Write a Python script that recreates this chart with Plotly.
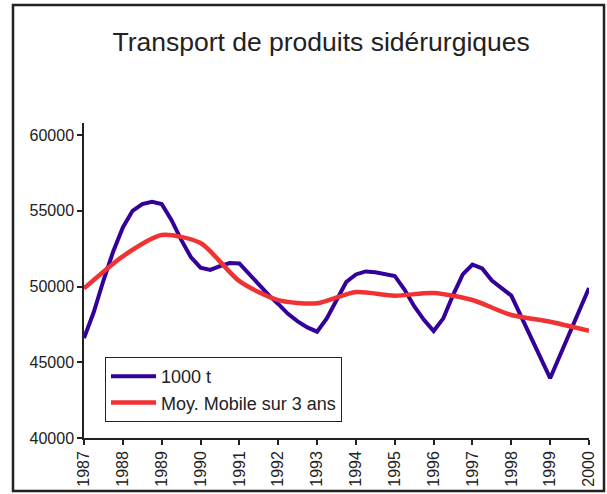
import plotly.graph_objects as go

# Blue series: quarterly values 1987-1998, then annual
x_t = [1987.0, 1987.25, 1987.5, 1987.75,
       1988.0, 1988.25, 1988.5, 1988.75,
       1989.0, 1989.25, 1989.5, 1989.75,
       1990.0, 1990.25, 1990.5, 1990.75,
       1991.0, 1991.25, 1991.5, 1991.75,
       1992.0, 1992.25, 1992.5, 1992.75,
       1993.0, 1993.25, 1993.5, 1993.75,
       1994.0, 1994.25, 1994.5, 1994.75,
       1995.0, 1995.25, 1995.5, 1995.75,
       1996.0, 1996.25, 1996.5, 1996.75,
       1997.0, 1997.25, 1997.5, 1997.75,
       1998.0, 1999.0, 2000.0]
tonnes = [46600, 48300, 50400, 52300,
          53900, 55000, 55450, 55600,
          55450, 54400, 53100, 51950,
          51250, 51100, 51350, 51550,
          51530, 50850, 50100, 49450,
          48850, 48200, 47700, 47300,
          47020, 47900, 49100, 50300,
          50800, 51000, 50950, 50800,
          50700, 49800, 48700, 47800,
          47060, 47900, 49440, 50800,
          51450, 51200, 50400, 49900,
          49400, 43950, 49900]

# Red series: 3-year moving average (annual)
years = [1987, 1988, 1989, 1990, 1991, 1992, 1993, 1994, 1995, 1996, 1997, 1998, 1999, 2000]
moy_mobile = [49880, 52000, 53400, 52870, 50360, 49100, 48900, 49640, 49400, 49570, 49110, 48120, 47680, 47080]

y_ticks = [40000, 45000, 50000, 55000, 60000]
x_ticks = list(range(1987, 2001))

fig = go.Figure()
fig.add_trace(go.Scatter(x=x_t, y=tonnes, mode="lines", name="1000 t",
                         line=dict(color="#330099", width=4)))
fig.add_trace(go.Scatter(x=years, y=moy_mobile, mode="lines", name="Moy. Mobile sur 3 ans",
                         line=dict(color="#f03232", width=4.5, shape="spline", smoothing=0.7)))

font_family = "Liberation Sans, Arial, sans-serif"
xr = [1987, 2000]
yr = [40000, 60800]

fig.update_layout(
    width=607, height=494,
    margin=dict(l=84, r=18, t=123, b=56, autoexpand=False),
    paper_bgcolor="white", plot_bgcolor="white",
    font=dict(family=font_family, color="#222222"),
    title=dict(text="Transport de produits sidérurgiques", font=dict(size=26.5, color="#222222"),
               x=0.529, xref="container", y=1 - 42 / 494, yref="container",
               xanchor="center", yanchor="middle"),
    showlegend=True,
    legend=dict(x=(105 - 84) / 505, y=(438 - 357) / 315, xanchor="left", yanchor="top",
                bordercolor="#222222", borderwidth=1, bgcolor="white", itemwidth=45,
                entrywidth=195, entrywidthmode="pixels",
                font=dict(size=18, color="#222222"), tracegroupgap=0),
    xaxis=dict(range=xr, tickmode="array", tickvals=x_ticks, ticktext=[str(v) for v in x_ticks],
               tickangle=-90, tickfont=dict(size=16), showgrid=False, zeroline=False,
               showline=True, linecolor="#222222", linewidth=1.5, automargin=False,
               ticks="outside", ticklen=5, tickcolor="#222222", tickwidth=1.5),
    yaxis=dict(range=yr, tickmode="array", tickvals=y_ticks, ticktext=[str(v) for v in y_ticks],
               tickfont=dict(size=16), showgrid=False, zeroline=False, automargin=False,
               showline=True, linecolor="#222222", linewidth=1.5,
               ticks="outside", ticklen=5, tickcolor="#222222", tickwidth=1.5),
    xaxis2=dict(range=xr, overlaying="x", anchor="y", side="bottom", tickmode="array",
                tickvals=x_ticks, showticklabels=False, showgrid=False, zeroline=False,
                automargin=False,
                showline=False, ticks="inside", ticklen=5, tickcolor="#222222", tickwidth=1.5),
    yaxis2=dict(range=yr, overlaying="y", anchor="x", side="left", tickmode="array",
                tickvals=y_ticks, showticklabels=False, showgrid=False, zeroline=False,
                automargin=False,
                showline=False, ticks="inside", ticklen=5, tickcolor="#222222", tickwidth=1.5),
)

# Outer frame around the whole chart
fig.add_shape(type="rect", xref="paper", yref="paper",
              x0=(13 - 84) / 505, x1=(604 - 84) / 505,
              y0=(438 - 491) / 315, y1=(438 - 5) / 315,
              line=dict(color="#222222", width=2.5), fillcolor="rgba(0,0,0,0)", layer="above")

fig.write_html("out.html", config={"displayModeBar": False},
               post_script="document.body.style.margin='0';")
